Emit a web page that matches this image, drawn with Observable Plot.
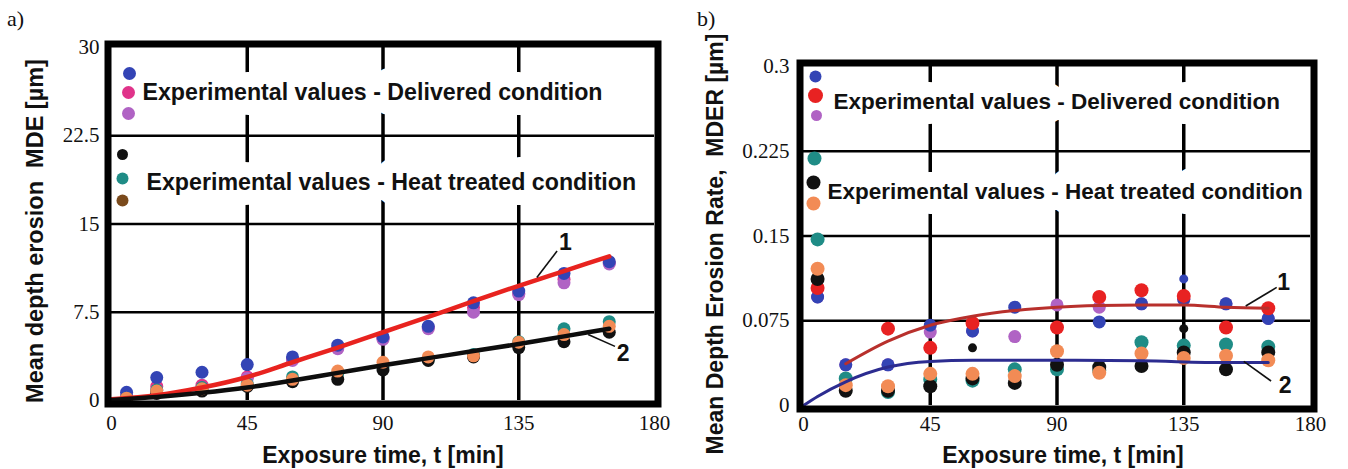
<!DOCTYPE html>
<html><head><meta charset="utf-8">
<script src="https://cdn.jsdelivr.net/npm/d3@7"></script>
<script src="https://cdn.jsdelivr.net/npm/@observablehq/plot@0.6"></script>
<style>
html,body{margin:0;padding:0;background:#fff;}
#wrap{position:relative;width:1348px;height:469px;overflow:hidden;background:#fff;}
.panel{position:absolute;top:0;}
.tag{position:absolute;font-family:"Liberation Serif",serif;font-size:22px;color:#111;line-height:1;}
.panel svg [aria-label^="x-axis"], .panel svg [aria-label^="y-axis"] {font-family:"Liberation Serif",serif; font-size:21px;}
.panel svg [aria-label^="x-axis"] text, .panel svg [aria-label^="y-axis"] text {font-family:"Liberation Serif",serif; font-size:21px;}
</style></head><body>
<div id="wrap">
<div id="pa" class="panel" style="left:0px"></div>
<div id="pb" class="panel" style="left:674px"></div>
<div class="tag" style="left:7px;top:8px">a)</div>
<div class="tag" style="left:697px;top:8px">b)</div>
</div>
<script>
// ---------- shared ----------
const times = [5, 15, 30, 45, 60, 75, 90, 105, 120, 135, 150, 165];
const xTicks = [0, 45, 90, 135, 180];
const xGrid = [45, 90, 135];

// ---------- panel a) Mean depth erosion MDE [µm] ----------
const mdeTicks = [0, 7.5, 15, 22.5, 30];
const mdeGrid = [7.5, 15, 22.5];
const mdeMagenta = [0.4, 1.2, 1.3, 2.0, 3.5, 4.5, 5.3, 6.2, 7.9, 9.1, 10.3, 11.7];
const mdeViolet  = [0.3, 0.9, 1.1, 1.9, 3.4, 4.4, 5.2, 6.1, 7.5, 9.0, 10.0, 11.6];
const mdeBlue    = [0.7, 1.95, 2.4, 3.05, 3.7, 4.7, 5.4, 6.3, 8.3, 9.3, 10.8, 11.8];
const mdeTeal    = [0.2, 0.9, 1.1, 1.4, 2.0, 2.3, 2.8, 3.5, 3.9, 5.0, 6.1, 6.7];
const mdeBlack   = [0.1, 0.6, 0.8, 1.2, 1.6, 1.8, 2.6, 3.4, 3.7, 4.5, 5.0, 5.8];
const mdeOrange  = [0.2, 0.8, 1.0, 1.3, 1.8, 2.5, 3.25, 3.7, 3.8, 4.95, 5.6, 6.3];
const mdeFitX  = [0, 15, 30, 45, 60, 75, 90, 105, 120, 135, 150, 165];
const mdeFit1  = [0.1, 0.45, 1.1, 2.0, 3.25, 4.5, 5.8, 7.1, 8.45, 9.75, 11.0, 12.25];
const mdeFit2  = [0.05, 0.3, 0.65, 1.1, 1.7, 2.35, 3.0, 3.6, 4.2, 4.8, 5.45, 6.1];
const mdeNotes = [
  {label: "1", x: 150.5, y: 13.4, x1: 147.7, y1: 12.7, x2: 141, y2: 10.45},
  {label: "2", x: 169.6, y: 4.0, x1: 166.9, y1: 4.6, x2: 158, y2: 5.6}
];

// ---------- panel b) Mean Depth Erosion Rate MDER [µm] ----------
const mderTicks = [0, 0.075, 0.15, 0.225, 0.3];
const mderGrid = [0.075, 0.15, 0.225];
const mderViolet = [0.096, 0.036, 0.036, 0.065, 0.066, 0.061, 0.089, 0.087, 0.090, 0.094, 0.090, 0.077];
const mderBlue   = [0.096, 0.036, 0.036, 0.071, 0.066, 0.087, null, 0.074, 0.090, 0.094, 0.090, 0.077];
const mderRed    = [0.104, null, 0.068, 0.051, 0.073, null, 0.069, 0.096, 0.102, 0.097, 0.069, 0.086];
const mderTeal   = [0.147, 0.024, 0.012, 0.023, 0.022, 0.032, 0.032, 0.031, 0.056, 0.053, 0.054, 0.052];
const mderBlack  = [0.112, 0.013, 0.013, 0.017, 0.024, 0.020, 0.036, 0.034, 0.035, 0.047, 0.032, 0.047];
const mderOrange = [0.121, 0.018, 0.017, 0.028, 0.028, 0.026, 0.048, 0.029, 0.046, 0.042, 0.044, 0.040];
const mderSmallBlueX = [135], mderSmallBlue = [0.112];
const mderSmallBlackX = [60, 135], mderSmallBlack = [0.051, 0.068];
const mderFit1X = [15, 30, 45, 60, 75, 90, 105, 120, 135, 150, 165];
const mderFit1  = [0.037, 0.057, 0.071, 0.079, 0.084, 0.087, 0.0885, 0.089, 0.089, 0.087, 0.086];
const mderFit2X = [0, 5, 15, 30, 45, 60, 90, 120, 150, 165];
const mderFit2  = [0, 0.008, 0.021, 0.034, 0.039, 0.040, 0.040, 0.0395, 0.038, 0.038];
const mderNotes = [
  {label: "1", x: 170.5, y: 0.109, x1: 168, y1: 0.1045, x2: 157, y2: 0.088},
  {label: "2", x: 171, y: 0.0174, x1: 166, y1: 0.0217, x2: 156.3, y2: 0.039}
];

const legendDelivered = "Experimental values - Delivered condition";
const legendHeat = "Experimental values - Heat treated condition";

// ---------- colours ----------
const C = {
  blue: "#3344b5", magenta: "#e0338a", violet: "#b063c4", red: "#e82222",
  black: "#111111", teal: "#1f8c86", orange: "#f28b55", brown: "#7a4a1c",
  fitRed: "#e8231f", fitBlack: "#0d0d0d", curveRed: "#b8302c", curveBlue: "#2c2c90"
};
const SANS = "Liberation Sans, Arial, sans-serif";

const rows = (xs, ys) => xs.map((x, i) => ({x, y: ys[i]})).filter(d => d.y != null);

function series(xs, ys, fill, r) {
  return Plot.dot(rows(xs, ys), {x: "x", y: "y", r, fill, stroke: "none"});
}
function legendDot(fill, r, dx, dy) {
  return Plot.dot([0], {frameAnchor: "top-left", dx, dy, r, fill, stroke: "none"});
}
function legendText(text, dx, dy, size) {
  return Plot.text([text], {frameAnchor: "top-left", dx, dy, text: d => d, textAnchor: "start", lineAnchor: "middle",
    fontFamily: SANS, fontWeight: "bold", fontSize: size, fill: "#111",
    stroke: "white", strokeWidth: 30, strokeLinejoin: "round", paintOrder: "stroke"});
}
function notes(data) {
  return [
    Plot.link(data, {x1: "x1", y1: "y1", x2: "x2", y2: "y2", stroke: "#111", strokeWidth: 1.6}),
    Plot.text(data, {x: "x", y: "y", text: "label", fontFamily: SANS, fontWeight: "bold", fontSize: 23, fill: "#111"})
  ];
}
function xTitle(dx, dy) {
  return Plot.text(["Exposure time, t [min]"], {frameAnchor: "bottom", dx, dy, text: d => d,
    textAnchor: "middle", lineAnchor: "middle", fontFamily: SANS, fontWeight: "bold", fontSize: 23, fill: "#111"});
}
function yTitle(text, dx, dy, size) {
  return Plot.text([text], {frameAnchor: "left", dx, dy, rotate: -90, text: d => d,
    textAnchor: "middle", lineAnchor: "middle", fontFamily: SANS, fontWeight: "bold", fontSize: size, fill: "#111"});
}
const axisStyle = {fontFamily: "Liberation Serif, serif", fontSize: "21px", color: "#111", background: "white", overflow: "visible"};

// ---------- panel a ----------
const plotA = Plot.plot({
  width: 674, height: 469,
  marginLeft: 111, marginRight: 20, marginTop: 47, marginBottom: 69,
  style: axisStyle,
  x: {domain: [0, 180], ticks: xTicks, tickSize: 0, tickPadding: 15, label: null, tickFormat: d => String(d)},
  y: {domain: [0, 30], ticks: mdeTicks, tickSize: 0, tickPadding: 12, label: null, tickFormat: d => String(d)},
  marks: [
    Plot.ruleX(xGrid, {stroke: "#000", strokeWidth: 3.5}),
    Plot.ruleY(mdeGrid, {stroke: "#000", strokeWidth: 2.5}),
    legendText(legendDelivered, 31, 45, 23.2),
    legendText(legendHeat, 35, 135, 23.2),
    legendDot(C.blue, 6.5, 18, 26),
    legendDot(C.magenta, 6.5, 17, 45),
    legendDot(C.violet, 6.5, 17, 66),
    legendDot(C.black, 5.5, 11, 107),
    legendDot(C.teal, 6, 11, 131),
    legendDot(C.brown, 6, 11, 153),
    series(times, mdeMagenta, C.magenta, 6.5),
    series(times, mdeViolet, C.violet, 6.5),
    series(times, mdeBlue, C.blue, 6.5),
    series(times, mdeTeal, C.teal, 6.5),
    series(times, mdeBlack, C.black, 6.5),
    series(times, mdeOrange, C.orange, 6.5),
    Plot.line(rows(mdeFitX, mdeFit1), {x: "x", y: "y", stroke: C.fitRed, strokeWidth: 4.5, curve: "monotone-x"}),
    Plot.line(rows(mdeFitX, mdeFit2), {x: "x", y: "y", stroke: C.fitBlack, strokeWidth: 4.5, curve: "monotone-x"}),
    ...notes(mdeNotes),
    xTitle(0, 55),
    yTitle("Mean depth erosion  MDE [\u00b5m]", -76, 7, 23.5),
    Plot.frame({stroke: "#000", strokeWidth: 7, inset: -3.5})
  ]
});
document.getElementById("pa").append(plotA);

// ---------- panel b ----------
const plotB = Plot.plot({
  width: 674, height: 469,
  marginLeft: 129, marginRight: 38, marginTop: 66, marginBottom: 64,
  style: axisStyle,
  x: {domain: [0, 180], ticks: xTicks, tickSize: 0, tickPadding: 11, label: null, tickFormat: d => String(d)},
  y: {domain: [0, 0.3], ticks: mderTicks, tickSize: 0, tickPadding: 14, label: null, tickFormat: d => String(d)},
  marks: [
    Plot.ruleX(xGrid, {stroke: "#000", strokeWidth: 3.5}),
    Plot.ruleY(mderGrid, {stroke: "#000", strokeWidth: 2.5}),
    legendText(legendDelivered, 30, 35, 22.5),
    legendText(legendHeat, 24, 125, 22.5),
    legendDot(C.blue, 6, 12, 10),
    legendDot(C.red, 7.5, 12, 29),
    legendDot(C.violet, 5.5, 13, 49),
    legendDot(C.teal, 7, 11, 92),
    legendDot(C.black, 7, 10, 116),
    legendDot(C.orange, 7, 10, 137),
    series(times, mderViolet, C.violet, 6.5),
    series(times, mderBlue, C.blue, 6.5),
    series(times, mderRed, C.red, 7),
    series(times, mderTeal, C.teal, 7),
    series(times, mderBlack, C.black, 7),
    series(times, mderOrange, C.orange, 7),
    series(mderSmallBlackX, mderSmallBlack, C.black, 4.5),
    series(mderSmallBlueX, mderSmallBlue, C.blue, 4.5),
    Plot.line(rows(mderFit1X, mderFit1), {x: "x", y: "y", stroke: C.curveRed, strokeWidth: 3, curve: "monotone-x"}),
    Plot.line(rows(mderFit2X, mderFit2), {x: "x", y: "y", stroke: C.curveBlue, strokeWidth: 3, curve: "monotone-x"}),
    ...notes(mderNotes),
    xTitle(6, 50),
    yTitle("Mean Depth Erosion Rate,  MDER [\u00b5m]", -88, 8, 23),
    Plot.frame({stroke: "#000", strokeWidth: 7, inset: -3.5})
  ]
});
document.getElementById("pb").append(plotB);
</script>
</body></html>
